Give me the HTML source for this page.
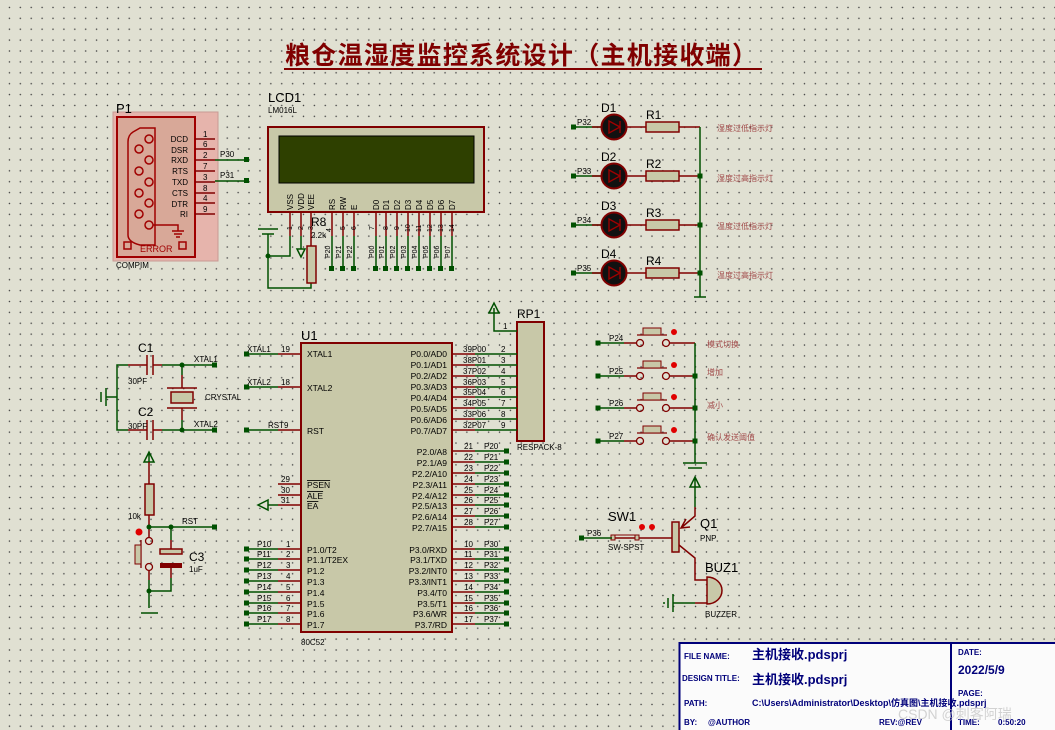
<!DOCTYPE html>
<html><head><meta charset="utf-8"><style>
html,body{margin:0;padding:0;}
body{width:1055px;height:730px;overflow:hidden;background-color:#e0e0d2;
background-image:radial-gradient(circle,#404040 0.6px,transparent 0.9px);background-size:10.9px 10.9px;background-position:4px 2px;}
svg{position:absolute;left:0;top:0;}
text{font-family:"Liberation Sans","Noto Sans CJK SC",sans-serif;}
</style></head><body>
<svg width="1055" height="730" viewBox="0 0 1055 730" xmlns="http://www.w3.org/2000/svg">
<!-- Title -->
<text x="285" y="64" font-size="25" font-weight="bold" fill="#800000" font-family="'Liberation Sans','Noto Sans CJK SC',sans-serif" textLength="472">粮仓温湿度监控系统设计（主机接收端）</text>
<line x1="284" y1="69" x2="762" y2="69" stroke="#800000" stroke-width="2"/>

<g font-size="8" fill="#000">
<!-- P1 COMPIM -->
<rect x="113" y="112" width="105" height="149" fill="#e6b4ac" stroke="#c89a94"/>
<rect x="117" y="117" width="78" height="140" fill="#d8a898" stroke="#a00000" stroke-width="2"/>
<path d="M133 132 Q128 135 128 142 L128 235 Q128 242 140 245 L155 245 L155 128 L140 128Z" fill="none" stroke="#a00000" stroke-width="1.5"/>
<g fill="none" stroke="#a00000" stroke-width="1.5">
<circle cx="149" cy="139" r="4"/><circle cx="139" cy="149" r="4"/><circle cx="149" cy="160" r="4"/><circle cx="139" cy="171" r="4"/><circle cx="149" cy="182" r="4"/><circle cx="139" cy="193" r="4"/><circle cx="149" cy="203" r="4"/><circle cx="139" cy="214" r="4"/><circle cx="149" cy="225" r="4"/>
<rect x="124" y="242" width="7" height="7"/><rect x="179" y="242" width="7" height="7"/>
<path d="M153 225 H178 V231 M172 231 H184 M174 234 H182 M176 237 H180"/>
</g>
<text x="140" y="252" font-size="9" fill="#a00000">ERROR</text>
<text x="116" y="113" font-size="13">P1</text>
<text x="116" y="268">COMPIM</text>
<g text-anchor="end"><text x="188" y="142">DCD</text><text x="188" y="153">DSR</text><text x="188" y="163">RXD</text><text x="188" y="174">RTS</text><text x="188" y="185">TXD</text><text x="188" y="196">CTS</text><text x="188" y="207">DTR</text><text x="188" y="217">RI</text></g>
<g stroke="#800000" stroke-width="1.5"><line x1="195" y1="139" x2="215" y2="139"/><line x1="195" y1="149" x2="215" y2="149"/><line x1="195" y1="160" x2="215" y2="160"/><line x1="195" y1="171" x2="215" y2="171"/><line x1="195" y1="182" x2="215" y2="182"/><line x1="195" y1="193" x2="215" y2="193"/><line x1="195" y1="203" x2="215" y2="203"/><line x1="195" y1="214" x2="215" y2="214"/></g>
<g><text x="203" y="137">1</text><text x="203" y="147">6</text><text x="203" y="158">2</text><text x="203" y="169">7</text><text x="203" y="180">3</text><text x="203" y="191">8</text><text x="203" y="201">4</text><text x="203" y="212">9</text></g>
<g stroke="#005000" stroke-width="1.5"><line x1="215" y1="160" x2="247" y2="160"/><line x1="215" y1="181" x2="247" y2="181"/></g>
<rect x="244" y="157" width="5" height="5" fill="#005000"/><rect x="244" y="178" width="5" height="5" fill="#005000"/>
<text x="220" y="157">P30</text><text x="220" y="178">P31</text>

<!-- LCD -->
<text x="268" y="102" font-size="13">LCD1</text><text x="268" y="113">LM016L</text>
<rect x="268" y="127" width="216" height="85" fill="#c8c8a8" stroke="#800000" stroke-width="2"/>
<rect x="279" y="136" width="195" height="47" fill="#2e4000" stroke="#000"/>
<g font-size="8">
<text transform="translate(293,210) rotate(-90)">VSS</text><text transform="translate(304,210) rotate(-90)">VDD</text><text transform="translate(314,210) rotate(-90)">VEE</text>
<text transform="translate(335,210) rotate(-90)">RS</text><text transform="translate(346,210) rotate(-90)">RW</text><text transform="translate(357,210) rotate(-90)">E</text>
<text transform="translate(379,210) rotate(-90)">D0</text><text transform="translate(389,210) rotate(-90)">D1</text><text transform="translate(400,210) rotate(-90)">D2</text><text transform="translate(411,210) rotate(-90)">D3</text><text transform="translate(422,210) rotate(-90)">D4</text><text transform="translate(433,210) rotate(-90)">D5</text><text transform="translate(444,210) rotate(-90)">D6</text><text transform="translate(455,210) rotate(-90)">D7</text>
</g>
<g stroke="#800000" stroke-width="1.5">
<line x1="290" y1="212" x2="290" y2="236"/><line x1="301" y1="212" x2="301" y2="236"/><line x1="311" y1="212" x2="311" y2="236"/>
<line x1="332" y1="212" x2="332" y2="236"/><line x1="343" y1="212" x2="343" y2="236"/><line x1="354" y1="212" x2="354" y2="236"/>
<line x1="376" y1="212" x2="376" y2="236"/><line x1="386" y1="212" x2="386" y2="236"/><line x1="397" y1="212" x2="397" y2="236"/><line x1="408" y1="212" x2="408" y2="236"/><line x1="419" y1="212" x2="419" y2="236"/><line x1="430" y1="212" x2="430" y2="236"/><line x1="441" y1="212" x2="441" y2="236"/><line x1="452" y1="212" x2="452" y2="236"/>
</g>
<g font-size="7">
<text transform="translate(292,230) rotate(-90)">1</text><text transform="translate(303,230) rotate(-90)">2</text><text transform="translate(313,230) rotate(-90)">3</text><text transform="translate(331,232) rotate(-90)">4</text><text transform="translate(345,230) rotate(-90)">5</text><text transform="translate(356,230) rotate(-90)">6</text>
<text transform="translate(374,230) rotate(-90)">7</text><text transform="translate(388,230) rotate(-90)">8</text><text transform="translate(399,230) rotate(-90)">9</text><text transform="translate(410,232) rotate(-90)">10</text><text transform="translate(421,232) rotate(-90)">11</text><text transform="translate(432,232) rotate(-90)">12</text><text transform="translate(443,232) rotate(-90)">13</text><text transform="translate(454,232) rotate(-90)">14</text>
<text transform="translate(330,258) rotate(-90)">P20</text><text transform="translate(341,258) rotate(-90)">P21</text><text transform="translate(352,258) rotate(-90)">P22</text>
<text transform="translate(374,258) rotate(-90)">P00</text><text transform="translate(384,258) rotate(-90)">P01</text><text transform="translate(395,258) rotate(-90)">P02</text><text transform="translate(406,258) rotate(-90)">P03</text><text transform="translate(417,258) rotate(-90)">P04</text><text transform="translate(428,258) rotate(-90)">P05</text><text transform="translate(439,258) rotate(-90)">P06</text><text transform="translate(450,258) rotate(-90)">P07</text>
</g>
<g stroke="#005000" stroke-width="1.5" fill="none">
<line x1="332" y1="236" x2="332" y2="268"/><line x1="343" y1="236" x2="343" y2="268"/><line x1="354" y1="236" x2="354" y2="268"/>
<line x1="376" y1="236" x2="376" y2="268"/><line x1="386" y1="236" x2="386" y2="268"/><line x1="397" y1="236" x2="397" y2="268"/><line x1="408" y1="236" x2="408" y2="268"/><line x1="419" y1="236" x2="419" y2="268"/><line x1="430" y1="236" x2="430" y2="268"/><line x1="441" y1="236" x2="441" y2="268"/><line x1="452" y1="236" x2="452" y2="268"/>
<path d="M290 236 V256 H268 M268 237 V288 H311 V283"/>
<path d="M258 229 H278 M262 234 H274 M268 234 V237"/>
<path d="M301 236 V249 M297 249 H305 L301 257 Z"/>
</g>
<g fill="#005000"><rect x="329" y="266" width="5" height="5"/><rect x="340" y="266" width="5" height="5"/><rect x="351" y="266" width="5" height="5"/><rect x="373" y="266" width="5" height="5"/><rect x="383" y="266" width="5" height="5"/><rect x="394" y="266" width="5" height="5"/><rect x="405" y="266" width="5" height="5"/><rect x="416" y="266" width="5" height="5"/><rect x="427" y="266" width="5" height="5"/><rect x="438" y="266" width="5" height="5"/><rect x="449" y="266" width="5" height="5"/><circle cx="268" cy="256" r="2.5"/></g>
<line x1="311" y1="236" x2="311" y2="246" stroke="#800000" stroke-width="1.5"/>
<rect x="307" y="246" width="9" height="37" fill="#c8c8a8" stroke="#800000" stroke-width="1.5"/>
<text x="311" y="226" font-size="12">R8</text><text x="311" y="238" font-size="8">2.2k</text>

<!-- LEDs -->
<g id="led">
<line x1="574" y1="127" x2="601" y2="127" stroke="#005000" stroke-width="1.5"/>
<line x1="592" y1="127" x2="646" y2="127" stroke="#800000" stroke-width="1.5"/>
<circle cx="614" cy="127" r="12.5" fill="#111" stroke="#800000" stroke-width="2"/>
<path d="M620 121 V133 M620 127 L609 121 V133 Z" stroke="#a00000" fill="none" stroke-width="1.3"/>
<rect x="646" y="122" width="33" height="10" fill="#c8c8a8" stroke="#800000" stroke-width="1.5"/>
<line x1="679" y1="127" x2="700" y2="127" stroke="#800000" stroke-width="1.5"/>
<rect x="571" y="124.5" width="5" height="5" fill="#005000"/>
</g>
<use href="#led" y="49"/><use href="#led" y="98"/><use href="#led" y="146"/>
<text x="601" y="112" font-size="12">D1</text><text x="646" y="119" font-size="12">R1</text><text x="577" y="125" font-size="8">P32</text>
<text x="601" y="161" font-size="12">D2</text><text x="646" y="168" font-size="12">R2</text><text x="577" y="174" font-size="8">P33</text>
<text x="601" y="210" font-size="12">D3</text><text x="646" y="217" font-size="12">R3</text><text x="577" y="223" font-size="8">P34</text>
<text x="601" y="258" font-size="12">D4</text><text x="646" y="265" font-size="12">R4</text><text x="577" y="271" font-size="8">P35</text>
<path d="M700 127 V297 M694 297 H706" stroke="#005000" stroke-width="1.5"/>
<g fill="#005000"><rect x="697.5" y="173.5" width="5" height="5"/><rect x="697.5" y="222.5" width="5" height="5"/><rect x="697.5" y="270.5" width="5" height="5"/></g>
<g font-size="8" fill="#a04848"><text x="717" y="131">湿度过低指示灯</text><text x="717" y="181">湿度过高指示灯</text><text x="717" y="229">温度过低指示灯</text><text x="717" y="278">温度过高指示灯</text></g>

<!-- RP1 -->
<rect x="517" y="322" width="27" height="119" fill="#c8c8a8" stroke="#800000" stroke-width="2"/>
<text x="517" y="318" font-size="12">RP1</text><text x="517" y="450">RESPACK-8</text>
<path d="M517 331 H494 V308 M489 313 L494 303 L499 313 Z" stroke="#005000" stroke-width="1.5" fill="none"/>
<text x="503" y="329">1</text>

<!-- U1 -->
<rect x="301" y="343" width="151" height="289" fill="#c8c8a8" stroke="#800000" stroke-width="2"/>
<text x="301" y="340" font-size="13">U1</text><text x="301" y="645">80C52</text>
<g font-size="8.5">
<text x="307" y="357">XTAL1</text><text x="307" y="391">XTAL2</text><text x="307" y="434">RST</text>
<text x="307" y="488" text-decoration="overline">PSEN</text><text x="307" y="499" text-decoration="overline">ALE</text><text x="307" y="509" text-decoration="overline">EA</text>
<text x="307" y="553">P1.0/T2</text><text x="307" y="563">P1.1/T2EX</text><text x="307" y="574">P1.2</text><text x="307" y="585">P1.3</text><text x="307" y="596">P1.4</text><text x="307" y="607">P1.5</text><text x="307" y="617">P1.6</text><text x="307" y="628">P1.7</text>
<g text-anchor="end">
<text x="447" y="357">P0.0/AD0</text><text x="447" y="368">P0.1/AD1</text><text x="447" y="379">P0.2/AD2</text><text x="447" y="390">P0.3/AD3</text><text x="447" y="401">P0.4/AD4</text><text x="447" y="412">P0.5/AD5</text><text x="447" y="423">P0.6/AD6</text><text x="447" y="434">P0.7/AD7</text>
<text x="447" y="455">P2.0/A8</text><text x="447" y="466">P2.1/A9</text><text x="447" y="477">P2.2/A10</text><text x="447" y="488">P2.3/A11</text><text x="447" y="499">P2.4/A12</text><text x="447" y="509">P2.5/A13</text><text x="447" y="520">P2.6/A14</text><text x="447" y="531">P2.7/A15</text>
<text x="447" y="553">P3.0/RXD</text><text x="447" y="563">P3.1/TXD</text><text x="447" y="574">P3.2/INT0</text><text x="447" y="585">P3.3/INT1</text><text x="447" y="596">P3.4/T0</text><text x="447" y="607">P3.5/T1</text><text x="447" y="617">P3.6/WR</text><text x="447" y="628">P3.7/RD</text>
</g></g>
<g stroke="#800000" stroke-width="1.5">
<path d="M278 354H301M278 387H301M278 430H301M278 484H301M278 495H301M278 505H301M278 549H301M278 559H301M278 570H301M278 581H301M278 592H301M278 603H301M278 613H301M278 624H301"/>
<path d="M452 354H475M452 365H475M452 376H475M452 387H475M452 397H475M452 408H475M452 419H475M452 430H475M452 451H475M452 462H475M452 473H475M452 484H475M452 495H475M452 505H475M452 516H475M452 527H475M452 549H475M452 559H475M452 570H475M452 581H475M452 592H475M452 603H475M452 613H475M452 624H475"/>
</g>
<g stroke="#005000" stroke-width="1.5" fill="none">
<path d="M246 354H278M246 387H278M246 430H278M246 549H278M246 559H278M246 570H278M246 581H278M246 592H278M246 603H278M246 613H278M246 624H278"/>
<path d="M475 354H517M475 365H517M475 376H517M475 387H517M475 397H517M475 408H517M475 419H517M475 430H517"/>
<path d="M475 451H506M475 462H506M475 473H506M475 484H506M475 495H506M475 505H506M475 516H506M475 527H506M475 549H506M475 559H506M475 570H506M475 581H506M475 592H506M475 603H506M475 613H506M475 624H506"/>
<path d="M278 505H268 M268 500 L258 505 L268 510 Z"/>
</g>
<g fill="#005000">
<rect x="244" y="351.5" width="5" height="5"/><rect x="244" y="384.5" width="5" height="5"/><rect x="244" y="427.5" width="5" height="5"/>
<rect x="244" y="546.5" width="5" height="5"/><rect x="244" y="556.5" width="5" height="5"/><rect x="244" y="567.5" width="5" height="5"/><rect x="244" y="578.5" width="5" height="5"/><rect x="244" y="589.5" width="5" height="5"/><rect x="244" y="600.5" width="5" height="5"/><rect x="244" y="610.5" width="5" height="5"/><rect x="244" y="621.5" width="5" height="5"/>
<rect x="504" y="448.5" width="5" height="5"/><rect x="504" y="459.5" width="5" height="5"/><rect x="504" y="470.5" width="5" height="5"/><rect x="504" y="481.5" width="5" height="5"/><rect x="504" y="492.5" width="5" height="5"/><rect x="504" y="502.5" width="5" height="5"/><rect x="504" y="513.5" width="5" height="5"/><rect x="504" y="524.5" width="5" height="5"/>
<rect x="504" y="546.5" width="5" height="5"/><rect x="504" y="556.5" width="5" height="5"/><rect x="504" y="567.5" width="5" height="5"/><rect x="504" y="578.5" width="5" height="5"/><rect x="504" y="589.5" width="5" height="5"/><rect x="504" y="600.5" width="5" height="5"/><rect x="504" y="610.5" width="5" height="5"/><rect x="504" y="621.5" width="5" height="5"/>
</g>
<g font-size="8">
<text x="247" y="352">XTAL1</text><text x="281" y="352">19</text><text x="247" y="385">XTAL2</text><text x="281" y="385">18</text><text x="268" y="428">RST</text><text x="284" y="428">9</text>
<text x="281" y="482">29</text><text x="281" y="493">30</text><text x="281" y="503">31</text>
<text x="257" y="547">P10</text><text x="286" y="547">1</text><text x="257" y="557">P11</text><text x="286" y="557">2</text><text x="257" y="568">P12</text><text x="286" y="568">3</text><text x="257" y="579">P13</text><text x="286" y="579">4</text><text x="257" y="590">P14</text><text x="286" y="590">5</text><text x="257" y="601">P15</text><text x="286" y="601">6</text><text x="257" y="611">P16</text><text x="286" y="611">7</text><text x="257" y="622">P17</text><text x="286" y="622">8</text>
<text x="463" y="352">39P00</text><text x="501" y="352">2</text><text x="463" y="363">38P01</text><text x="501" y="363">3</text><text x="463" y="374">37P02</text><text x="501" y="374">4</text><text x="463" y="385">36P03</text><text x="501" y="385">5</text><text x="463" y="395">35P04</text><text x="501" y="395">6</text><text x="463" y="406">34P05</text><text x="501" y="406">7</text><text x="463" y="417">33P06</text><text x="501" y="417">8</text><text x="463" y="428">32P07</text><text x="501" y="428">9</text>
<text x="464" y="449">21</text><text x="484" y="449">P20</text><text x="464" y="460">22</text><text x="484" y="460">P21</text><text x="464" y="471">23</text><text x="484" y="471">P22</text><text x="464" y="482">24</text><text x="484" y="482">P23</text><text x="464" y="493">25</text><text x="484" y="493">P24</text><text x="464" y="503">26</text><text x="484" y="503">P25</text><text x="464" y="514">27</text><text x="484" y="514">P26</text><text x="464" y="525">28</text><text x="484" y="525">P27</text>
<text x="464" y="547">10</text><text x="484" y="547">P30</text><text x="464" y="557">11</text><text x="484" y="557">P31</text><text x="464" y="568">12</text><text x="484" y="568">P32</text><text x="464" y="579">13</text><text x="484" y="579">P33</text><text x="464" y="590">14</text><text x="484" y="590">P34</text><text x="464" y="601">15</text><text x="484" y="601">P35</text><text x="464" y="611">16</text><text x="484" y="611">P36</text><text x="464" y="622">17</text><text x="484" y="622">P37</text>
</g>

<!-- crystal -->
<g stroke="#005000" stroke-width="1.5" fill="none">
<path d="M128 365H117V430H128 M117 397H106 M106 388V406 M101 392V402"/>
<path d="M162 365H214 M162 430H214 M182 365V375 M182 420V430"/>
<path d="M149 452V462 M144 462 L149 452 L154 462 Z"/>
<path d="M149 527H214 M171 527V540 M171 578V591H149 M149 580V608 M141 613H158"/>
</g>
<g stroke="#800000" stroke-width="1.5" fill="none">
<path d="M128 365H147M153 365H162M147 355V375M153 355V375"/>
<path d="M128 430H147M153 430H162M147 420V440M153 420V440"/>
<path d="M182 375V388M182 408V420M167 388H197M167 408H197"/>
<path d="M149 462V484M149 515V527M149 527V537M149 571V580 M171 540V551M171 566V578"/>
</g>
<rect x="171" y="392" width="22" height="11" fill="#c8c8a8" stroke="#800000" stroke-width="1.5"/>
<rect x="145" y="484" width="9" height="31" fill="#c8c8a8" stroke="#800000" stroke-width="1.5"/>
<circle cx="149" cy="541" r="3.5" fill="none" stroke="#800000" stroke-width="1.3"/><circle cx="149" cy="567" r="3.5" fill="none" stroke="#800000" stroke-width="1.3"/>
<path d="M141 540V568" stroke="#800000" stroke-width="1.3"/>
<rect x="135" y="545" width="6" height="19" fill="#c8c8a8" stroke="#800000"/>
<rect x="160" y="549" width="22" height="5" fill="#c8c8a8" stroke="#800000" stroke-width="1.5"/>
<rect x="160" y="563" width="22" height="5" fill="#800000"/>
<circle cx="139" cy="532" r="3.5" fill="#e00000"/>
<g fill="#005000"><circle cx="182" cy="365" r="2.5"/><circle cx="182" cy="430" r="2.5"/><rect x="212" y="362.5" width="5" height="5"/><rect x="212" y="427.5" width="5" height="5"/><circle cx="149" cy="527" r="2.5"/><circle cx="171" cy="527" r="2.5"/><rect x="212" y="524.5" width="5" height="5"/><circle cx="149" cy="591" r="2.5"/></g>
<g font-size="8"><text x="138" y="352" font-size="12">C1</text><text x="128" y="384">30PF</text><text x="138" y="416" font-size="12">C2</text><text x="128" y="429">30PF</text><text x="205" y="400">CRYSTAL</text><text x="194" y="362">XTAL1</text><text x="194" y="427">XTAL2</text><text x="128" y="519">10k</text><text x="182" y="524">RST</text><text x="189" y="561" font-size="12">C3</text><text x="189" y="572">1uF</text></g>

<!-- buttons -->
<g id="btn">
<path d="M598 343H624" stroke="#005000" stroke-width="1.5"/>
<path d="M624 343H636M670 343H695" stroke="#800000" stroke-width="1.5"/>
<circle cx="640" cy="343" r="3.5" fill="none" stroke="#800000" stroke-width="1.3"/><circle cx="666" cy="343" r="3.5" fill="none" stroke="#800000" stroke-width="1.3"/>
<path d="M637 335H667" stroke="#800000" stroke-width="1.3"/>
<rect x="643" y="328" width="18" height="7" fill="#c8c8a8" stroke="#800000"/>
<circle cx="674" cy="332" r="3" fill="#e00000"/>
<rect x="595.5" y="340.5" width="5" height="5" fill="#005000"/>
</g>
<use href="#btn" y="33"/><use href="#btn" y="65"/><use href="#btn" y="98"/>
<g font-size="8"><text x="609" y="341">P24</text><text x="609" y="374">P25</text><text x="609" y="406">P26</text><text x="609" y="439">P27</text></g>
<g font-size="8" fill="#a04848"><text x="707" y="347">模式切换</text><text x="707" y="375">增加</text><text x="707" y="408">减小</text><text x="707" y="440">确认发送阈值</text></g>
<path d="M695 343V463 M683 463H707 M688 468H702" stroke="#005000" stroke-width="1.5" fill="none"/>
<g fill="#005000"><rect x="692.5" y="373.5" width="5" height="5"/><rect x="692.5" y="405.5" width="5" height="5"/><rect x="692.5" y="438.5" width="5" height="5"/></g>

<!-- Q1 / SW1 / BUZ -->
<path d="M695 477V507 M690 487L695 477L700 487Z" stroke="#005000" stroke-width="1.5" fill="none"/>
<path d="M695 507V516 L681 528 M686 519 L681 528 L690 527 M679 545 L695 558 V580 H707 M707 603H695" stroke="#800000" stroke-width="1.5" fill="none"/>
<path d="M612 538H672" stroke="#800000" stroke-width="1.5"/>
<rect x="611" y="535" width="4" height="5" fill="#c8c8a8" stroke="#800000"/><rect x="635" y="535" width="4" height="5" fill="#c8c8a8" stroke="#800000"/>
<path d="M615 535H635" stroke="#800000"/>
<circle cx="642" cy="527" r="3" fill="#e00000"/><circle cx="652" cy="527" r="3" fill="#e00000"/>
<path d="M581 538H612" stroke="#005000" stroke-width="1.5"/><rect x="579" y="535.5" width="5" height="5" fill="#005000"/>
<rect x="672" y="522" width="7" height="30" fill="#c8c8a8" stroke="#800000" stroke-width="1.5"/>
<path d="M707 577 A15 13.5 0 0 1 707 604 Z" fill="#c8c8a8" stroke="#800000" stroke-width="1.5"/>
<path d="M695 603H673 M673 594V612 M668 598V608 M663 603H665" stroke="#005000" stroke-width="1.5"/>
<g font-size="8"><text x="608" y="521" font-size="13">SW1</text><text x="608" y="550">SW-SPST</text><text x="587" y="536">P36</text><text x="700" y="528" font-size="13">Q1</text><text x="700" y="541">PNP</text><text x="705" y="572" font-size="13">BUZ1</text><text x="705" y="617">BUZZER</text></g>
</g>

<!-- Title block -->
<rect x="679.5" y="643" width="380" height="90" fill="#fbfbfb" stroke="#00007a" stroke-width="2"/>
<line x1="951" y1="643" x2="951" y2="730" stroke="#00007a" stroke-width="2"/>
<g fill="#00007a" font-weight="bold">
<text x="684" y="659" font-size="8">FILE NAME:</text>
<text x="752" y="659" font-size="13">主机接收.pdsprj</text>
<text x="682" y="681" font-size="8">DESIGN TITLE:</text>
<text x="752" y="684" font-size="13">主机接收.pdsprj</text>
<text x="684" y="706" font-size="8">PATH:</text>
<text x="752" y="706" font-size="9">C:\Users\Administrator\Desktop\仿真图\主机接收.pdsprj</text>
<text x="684" y="725" font-size="8">BY:</text><text x="708" y="725" font-size="8">@AUTHOR</text>
<text x="879" y="725" font-size="8">REV:@REV</text>
<text x="958" y="655" font-size="8">DATE:</text>
<text x="958" y="674" font-size="12">2022/5/9</text>
<text x="958" y="696" font-size="8">PAGE:</text>
<text x="958" y="725" font-size="8">TIME:</text><text x="998" y="725" font-size="8">0:50:20</text>
</g>
<text x="898" y="719" font-size="14" fill="#c8c8c8" opacity="0.8">CSDN @刺客阿瑞</text>
</svg>
</body></html>
